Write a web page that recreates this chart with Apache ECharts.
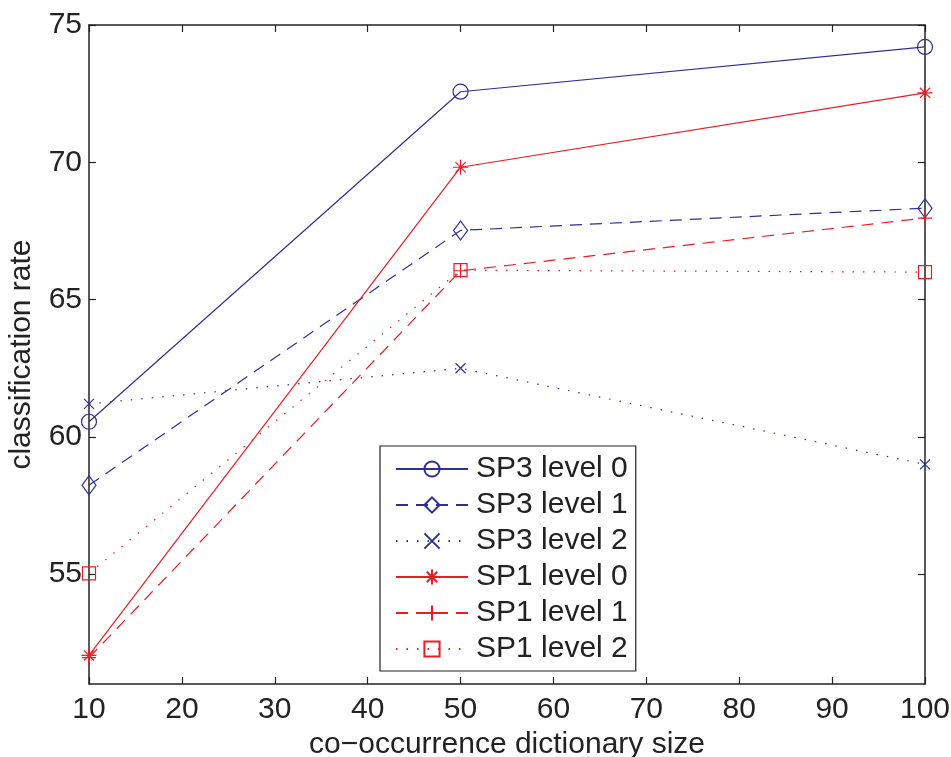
<!DOCTYPE html>
<html>
<head>
<meta charset="utf-8">
<script src="https://cdn.jsdelivr.net/npm/echarts@6/dist/echarts.min.js"></script>
<style>html,body{margin:0;padding:0;background:#fff;}#c{width:951px;height:757px;}</style>
</head>
<body>
<div id="c"></div>
<script>
// ---- data ----
var xValues = [10, 50, 100];
var seriesNames = ['SP3 level 0', 'SP3 level 1', 'SP3 level 2', 'SP1 level 0', 'SP1 level 1', 'SP1 level 2'];
var sp3Level0 = [60.55, 72.57, 74.2];
var sp3Level1 = [58.24, 67.52, 68.33];
var sp3Level2 = [61.2, 62.5, 59.0];
var sp1Level0 = [52.04, 69.82, 72.53];
var sp1Level1 = [51.96, 66.05, 67.97];
var sp1Level2 = [55.03, 66.07, 66.0];
var xTicks = [10, 20, 30, 40, 50, 60, 70, 80, 90, 100];
var yTicks = [55, 60, 65, 70, 75];

// ---- styles ----
var BLUE = '#2e3192', RED = '#ec1c24', INK = '#222222';
var FONT = 'Liberation Sans, Arial, Helvetica, sans-serif';
var SYM_X = 'path://M0,0L10,10M10,0L0,10';
var SYM_STAR = 'path://M5,0L5,10M0,5L10,5M1.6,1.6L8.4,8.4M8.4,1.6L1.6,8.4';
var SYM_PLUS = 'path://M5,0L5,10M0,5L10,5';

function pairs(vals) { return xValues.map(function (x, i) { return [x, vals[i]]; }); }
function mk(name, vals, color, type, symbol, size) {
  return {
    name: name, type: 'line', data: pairs(vals), color: color,
    symbol: symbol, symbolSize: size, showSymbol: true,
    lineStyle: { color: color, width: 1.2, type: type },
    itemStyle: { color: 'rgba(0,0,0,0)', borderColor: color, borderWidth: 1.2 },
    emphasis: { disabled: true }, z: 3
  };
}
var DASH = [12, 8], DOT = [1.5, 9];

var chart = echarts.init(document.getElementById('c'), null, { renderer: 'canvas' });
var axisLine = { show: true, lineStyle: { color: INK, width: 1.5 } };
var tickStyle = { show: true, inside: true, length: 7, lineStyle: { color: INK, width: 1.2 } };
chart.setOption({
  animation: false,
  backgroundColor: '#fff',
  textStyle: { fontFamily: FONT },
  grid: { left: 89, right: 26, top: 25, bottom: 73, containLabel: false, outerBoundsMode: 'none' },
  xAxis: [{
    type: 'value', min: 10, max: 100, interval: 10, position: 'bottom',
    name: 'co\u2212occurrence dictionary size', nameLocation: 'middle', nameGap: 46,
    nameTextStyle: { fontSize: 30, color: INK, fontFamily: FONT },
    axisLine: axisLine, axisTick: tickStyle, splitLine: { show: false },
    axisLabel: { fontSize: 30, color: INK, margin: 11, fontFamily: FONT, customValues: xTicks }
  }, {
    type: 'value', min: 10, max: 100, interval: 10, position: 'top',
    axisLine: axisLine, axisTick: tickStyle, splitLine: { show: false }, axisLabel: { show: false }
  }],
  yAxis: [{
    type: 'value', min: 51, max: 75, position: 'left',
    name: 'classification rate', nameLocation: 'middle', nameGap: 52,
    nameTextStyle: { fontSize: 30, color: INK, fontFamily: FONT },
    axisLine: axisLine,
    axisTick: Object.assign({}, tickStyle, { customValues: yTicks }),
    splitLine: { show: false },
    axisLabel: { fontSize: 30, color: INK, margin: 7, fontFamily: FONT, customValues: yTicks, padding: [6, 0, 0, 0] }
  }, {
    type: 'value', min: 51, max: 75, position: 'right',
    axisLine: axisLine,
    axisTick: Object.assign({}, tickStyle, { customValues: yTicks }),
    splitLine: { show: false }, axisLabel: { show: false }
  }],
  legend: {
    left: 380, top: 446, orient: 'vertical',
    padding: [8, 8, 7, 15],
    backgroundColor: '#fff', borderColor: INK, borderWidth: 1.2,
    itemWidth: 72, itemHeight: 19, itemGap: 6,
    textStyle: { fontSize: 30, color: INK, fontFamily: FONT, lineHeight: 30, padding: [0, 0, 0, 3] },
    selectedMode: false,
    data: seriesNames
  },
  series: [
    mk(seriesNames[0], sp3Level0, BLUE, 'solid', 'circle', 15),
    mk(seriesNames[1], sp3Level1, BLUE, DASH, 'diamond', [14, 19]),
    mk(seriesNames[2], sp3Level2, BLUE, DOT, SYM_X, 10),
    mk(seriesNames[3], sp1Level0, RED, 'solid', SYM_STAR, 15),
    mk(seriesNames[4], sp1Level1, RED, DASH, SYM_PLUS, 14),
    mk(seriesNames[5], sp1Level2, RED, DOT, 'rect', 13)
  ]
});
</script>
</body>
</html>
